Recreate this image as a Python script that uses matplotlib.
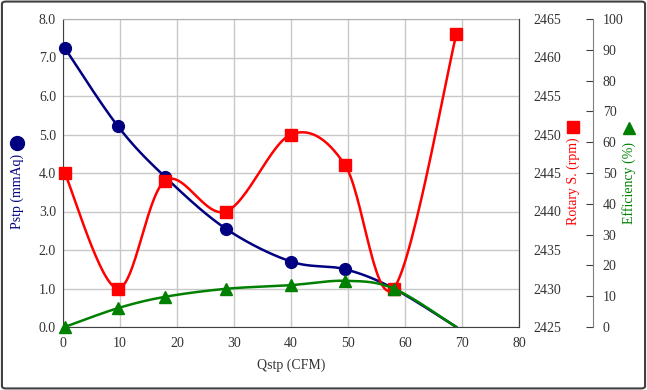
import matplotlib
matplotlib.use('Agg')
import matplotlib.pyplot as plt
import numpy as np
from matplotlib.lines import Line2D
from matplotlib.patches import FancyBboxPatch

# data
qstp = [0.3, 9.6, 17.9, 28.6, 40.0, 49.5, 58.0, 69.0]
pstp = [7.25, 5.22, 3.9, 2.55, 1.7, 1.5, 1.0, 0.0]
rpm = [2445, 2430, 2444, 2440, 2450, 2446, 2430, 2463]
eff = [0.0, 6.1, 9.8, 12.4, 13.6, 15.0, 12.5, 0.0]

plt.rcParams['font.family'] = ['Liberation Serif', 'DejaVu Serif']
plt.rcParams['font.size'] = 10

navy = '#000080'
red = '#FF0000'
green = '#008000'
txt = '#333333'


def smooth(x, y, n=30):
    # excel-like smoothed line (catmull-rom bezier)
    x = np.asarray(x, float)
    y = np.asarray(y, float)
    px = np.concatenate([[x[0]], x, [x[-1]]])
    py = np.concatenate([[y[0]], y, [y[-1]]])
    xs, ys = [], []
    t = np.linspace(0, 1, n)
    for i in range(1, len(px) - 2):
        p0 = np.array([px[i], py[i]])
        p3 = np.array([px[i + 1], py[i + 1]])
        c1 = p0 + (np.array([px[i + 1], py[i + 1]]) - np.array([px[i - 1], py[i - 1]])) / 6
        c2 = p3 - (np.array([px[i + 2], py[i + 2]]) - np.array([px[i], py[i]])) / 6
        b = ((1 - t) ** 3)[:, None] * p0 + (3 * (1 - t) ** 2 * t)[:, None] * c1 \
            + (3 * (1 - t) * t ** 2)[:, None] * c2 + (t ** 3)[:, None] * p3
        xs.extend(b[:, 0])
        ys.extend(b[:, 1])
    return np.array(xs), np.array(ys)


fig = plt.figure(figsize=(6.47, 3.9), dpi=100)
ax = fig.add_axes([63 / 647, 1 - 327 / 390, 456 / 647, 308 / 390])
ax2 = ax.twinx()
ax3 = ax.twinx()

# Pstp
sx, sy = smooth(qstp, pstp)
ax.plot(sx, sy, color=navy, lw=1.8, zorder=3)
ax.plot(qstp[:-1], pstp[:-1], 'o', color=navy, ms=8.5, zorder=4, clip_on=False)

# rotary speed
sx, sy = smooth(qstp, rpm)
ax2.plot(sx, sy, color=red, lw=1.8)
ax2.plot(qstp, rpm, 's', color=red, ms=8.5, clip_on=False)

# efficiency
sx, sy = smooth(qstp, eff)
ax3.plot(sx, sy, color=green, lw=1.8)
ax3.plot(qstp[:-1], eff[:-1], '^', color=green, ms=8, clip_on=False)

ax.set_xlim(0, 80)
ax.set_ylim(0, 8)
ax.set_xticks(np.arange(0, 81, 10))
ax.set_yticks(np.arange(0, 8.1, 1))
ax.set_yticklabels([f'{v:.1f}' for v in np.arange(0, 8.1, 1)])
ax.grid(True, color='#c8c8c8', lw=1)
ax.set_axisbelow(True)
ax.tick_params(axis='both', length=0, colors=txt, labelsize=10)
ax.tick_params(axis='y', pad=5)
ax.tick_params(axis='x', pad=7)
for s in ['left', 'bottom', 'right']:
    ax.spines[s].set_color('#404040')
ax.spines['top'].set_color('#b0b0b0')
ax.set_xlabel('Qstp (CFM)', color=txt, labelpad=6)

ax2.set_ylim(2425, 2465)
ax2.set_yticks(np.arange(2425, 2466, 5))
ax2.tick_params(axis='y', length=0, pad=10, colors=txt, labelsize=10)
ax2.spines['right'].set_color('#404040')

ax3.set_ylim(0, 100)
ax3.set_yticks(np.arange(0, 101, 10))
ax3.spines['right'].set_position(('axes', (593 - 63) / 456))
ax3.spines['right'].set_color('#808080')
ax3.tick_params(axis='y', direction='in', length=5, pad=7, colors=txt,
                labelsize=10, color='#404040')
for a in (ax2, ax3):
    for s in ['left', 'top', 'bottom']:
        a.spines[s].set_visible(False)

# axis titles with symbols
fig.text(17 / 647, 1 - 191 / 390, 'Pstp (mmAq)', rotation=90, color=navy,
         ha='center', va='center')
fig.add_artist(Line2D([17 / 647], [1 - 143 / 390], marker='o', color=navy,
                      ms=10, transform=fig.transFigure))
fig.text(573 / 647, 1 - 181 / 390, 'Rotary S. (rpm)', rotation=90, color=red,
         ha='center', va='center')
fig.add_artist(Line2D([573 / 647], [1 - 127 / 390], marker='s', color=red,
                      ms=9, transform=fig.transFigure))
fig.text(629 / 647, 1 - 183 / 390, 'Efficiency (%)', rotation=90, color=green,
         ha='center', va='center')
fig.add_artist(Line2D([629 / 647], [1 - 128 / 390], marker='^', color=green,
                      ms=9, transform=fig.transFigure))

# outer border
fig.patches.append(FancyBboxPatch((0.003, 0.004), 0.994, 0.992,
                                  boxstyle='round,pad=0,rounding_size=0.006',
                                  transform=fig.transFigure, fill=False,
                                  ec='#404040', lw=1.5))

fig.savefig('out.png', dpi=100)
